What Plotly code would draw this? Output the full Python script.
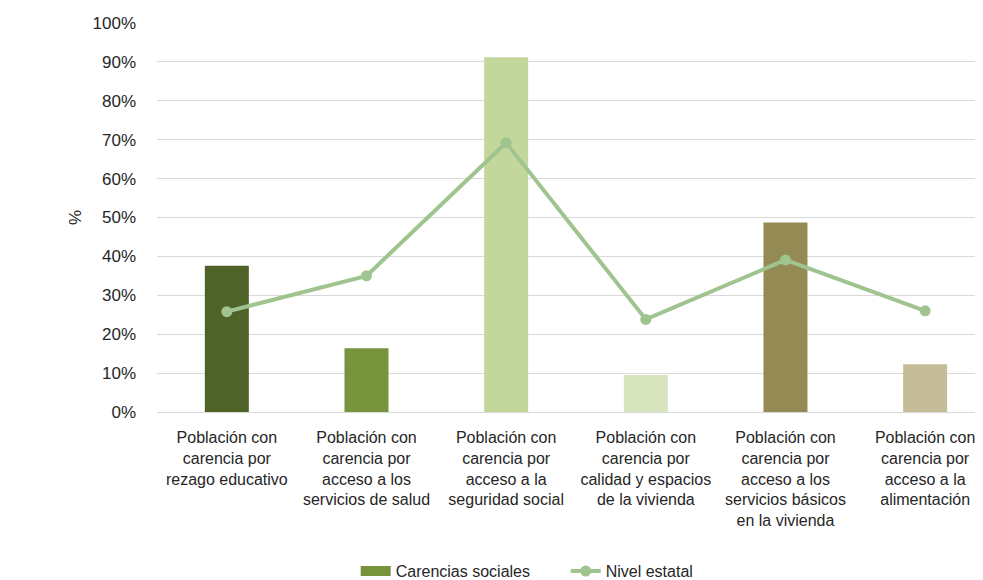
import plotly.graph_objects as go

# Category labels (x axis) and values
categorias = [
    "Población con<br>carencia por<br>rezago educativo",
    "Población con<br>carencia por<br>acceso a los<br>servicios de salud",
    "Población con<br>carencia por<br>acceso a la<br>seguridad social",
    "Población con<br>carencia por<br>calidad y espacios<br>de la vivienda",
    "Población con<br>carencia por<br>acceso a los<br>servicios básicos<br>en la vivienda",
    "Población con<br>carencia por<br>acceso a la<br>alimentación",
]
carencias_sociales = [0.376, 0.164, 0.912, 0.095, 0.487, 0.123]
nivel_estatal = [0.258, 0.350, 0.692, 0.238, 0.391, 0.260]

bar_colors = ["#4F6228", "#77933C", "#C3D69B", "#D7E4BD", "#948A54", "#C4BD97"]
line_color = "#A0C48F"
font_family = "Liberation Sans, Arial, sans-serif"

fig = go.Figure()

# Bars, one colour per category
fig.add_trace(go.Bar(
    x=categorias,
    y=carencias_sociales,
    marker=dict(color=bar_colors, line=dict(width=0)),
    width=0.315,
    name="Carencias sociales",
    showlegend=False,
))

# Legend entry for the bars: a thick short line looks like the wide swatch
fig.add_trace(go.Scatter(
    x=[categorias[0]],
    y=[None],
    mode="lines",
    line=dict(color="#77933C", width=13),
    name="Carencias sociales",
))

# State-level line
fig.add_trace(go.Scatter(
    x=categorias,
    y=nivel_estatal,
    mode="lines+markers",
    line=dict(color=line_color, width=4),
    marker=dict(color=line_color, size=11),
    name="Nivel estatal",
))

# page body has an 8px margin, so the figure is sized 8px smaller
fig.update_layout(
    width=975,
    height=572,
    plot_bgcolor="white",
    paper_bgcolor="white",
    font=dict(family=font_family, size=16, color="#262626"),
    margin=dict(l=149, r=2, t=15, b=168, autoexpand=False),
    xaxis=dict(
        range=[-0.5, 5.4],
        automargin=False,
        showgrid=False,
        showline=False,
        ticks="",
        ticklabelstandoff=14,
        tickfont=dict(size=16, color="#262626"),
    ),
    yaxis=dict(
        range=[0, 1.0],
        dtick=0.1,
        tickformat=".0%",
        automargin=False,
        showgrid=True,
        gridcolor="#D9D9D9",
        gridwidth=1,
        zeroline=True,
        zerolinecolor="#D9D9D9",
        zerolinewidth=1,
        ticks="",
        ticklabelstandoff=20,
        tickfont=dict(size=17, color="#262626"),
        title=dict(text="%", font=dict(size=17, color="#262626"), standoff=6),
    ),
    legend=dict(
        orientation="h",
        xanchor="center",
        x=0.496,
        yanchor="middle",
        y=-0.409,
        entrywidth=165,
        entrywidthmode="pixels",
        font=dict(size=16, color="#262626"),
        traceorder="normal",
    ),
)

fig.write_html("out.html")
